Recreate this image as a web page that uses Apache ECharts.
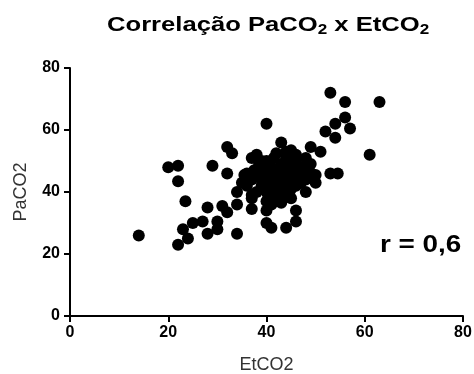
<!DOCTYPE html>
<html>
<head>
<meta charset="utf-8">
<script src="https://cdn.jsdelivr.net/npm/echarts@6/dist/echarts.min.js"></script>
<style>
  html, body { margin: 0; padding: 0; background: #fff; }
  #chart { width: 474px; height: 374px; }
</style>
</head>
<body>
<div id="chart"></div>
<script>
// tick labels
var xTicks = [0, 20, 40, 60, 80];
var yTicks = [0, 20, 40, 60, 80];

// pontos esparsos (EtCO2, PaCO2)
var outerPoints = [
  [14, 26],
  [20, 48], [22, 48.5], [22, 43.5], [22, 23], [23, 28], [23.5, 37], [24, 25],
  [25, 30], [27, 30.5], [28, 26.5], [28, 35], [29, 48.5],
  [30, 28], [30, 30.5], [31, 35.5], [32, 33.5], [32, 54.5], [33, 52.5], [32, 46],
  [34, 26.5], [34, 36], [34, 40], [35.5, 45.5], [37, 51], [37, 34.5], [37, 38],
  [40, 62], [40, 30], [41, 28.5], [40, 34], [41, 36], [43, 56], [44, 28.5], [46, 30.5], [46, 34],
  [43, 36.5], [43.5, 38.5],
  [45, 53.5], [42, 52.5], [49, 54.5], [51, 53], [48, 47.5], [50, 45.5], [50, 43], [48, 40],
  [52, 59.5], [53, 72], [54, 62], [54, 57.5], [56, 69], [56, 64], [57, 60.5], [63, 69],
  [61, 52], [53, 46], [54.5, 46]
];

// nucleo denso
var clusterPoints = [
  [36, 42], [37, 44], [37.5, 47], [38, 40], [38, 45], [38.5, 49], [39, 42], [39, 47],
  [39.5, 44], [40, 50], [40, 40], [40, 46], [40.5, 43], [41, 48], [41, 45], [41, 41],
  [41.5, 51], [42, 43], [42, 47], [42, 39], [42.5, 45], [43, 49], [43, 42], [43, 46],
  [43.5, 44], [44, 51], [44, 48], [44, 40], [44.5, 43], [45, 46], [45, 49], [45, 41],
  [45.5, 44], [46, 47], [46, 50], [46, 42], [47, 45], [47, 48], [47, 43], [48, 51],
  [48, 44], [49, 46], [39, 50], [38, 52], [44, 53], [46, 52], [36, 46], [35, 43],
  [37, 39], [49, 49], [41, 38], [43, 38], [40, 37], [45, 38]
];

var chart = echarts.init(document.getElementById('chart'));

var axisCommon = {
  min: 0,
  max: 80,
  interval: 20,
  axisLine: { show: true, lineStyle: { color: '#000', width: 2 } },
  axisTick: { show: true, length: 6, lineStyle: { color: '#000', width: 2 } },
  splitLine: { show: false },
  nameTextStyle: { color: '#333', fontSize: 18, fontFamily: 'Liberation Sans' }
};

chart.setOption({
  animation: false,
  backgroundColor: '#fff',
  grid: { left: 70, right: 11, top: 68, bottom: 58, outerBoundsMode: 'none' },
  xAxis: Object.assign({}, axisCommon, {
    type: 'value',
    name: 'EtCO2',
    nameLocation: 'middle',
    nameGap: 40,
    axisLabel: {
      color: '#000', fontSize: 16, fontWeight: 'bold', fontFamily: 'Liberation Sans', margin: 9,
      formatter: function (v) { return xTicks.indexOf(v) >= 0 ? String(v) : ''; }
    }
  }),
  yAxis: Object.assign({}, axisCommon, {
    type: 'value',
    name: 'PaCO2',
    nameLocation: 'middle',
    nameGap: 40,
    axisLabel: {
      color: '#000', fontSize: 16, fontWeight: 'bold', fontFamily: 'Liberation Sans', margin: 10,
      formatter: function (v) { return yTicks.indexOf(v) >= 0 ? String(v) : ''; }
    }
  }),
  graphic: [{
    // titulo (esticado na horizontal como no original)
    type: 'text',
    x: 107,
    y: 14,
    scaleX: 1.22,
    style: {
      text: '{t|Correlação PaCO}{s|2}{t| x EtCO}{s|2}',
      rich: {
        t: { font: 'bold 21px "Liberation Sans"', fill: '#000' },
        s: { font: 'bold 14px "Liberation Sans"', fill: '#000', padding: [9, 0, 0, 0] }
      }
    }
  }, {
    type: 'text',
    x: 380,
    y: 233,
    scaleX: 1.16,
    style: { text: 'r = 0,6', fill: '#000', font: 'bold 24px "Liberation Sans"' }
  }],
  series: [{
    type: 'scatter',
    symbol: 'circle',
    symbolSize: 12,
    itemStyle: { color: '#000', opacity: 1 },
    data: outerPoints.concat(clusterPoints)
  }]
});
</script>
</body>
</html>
